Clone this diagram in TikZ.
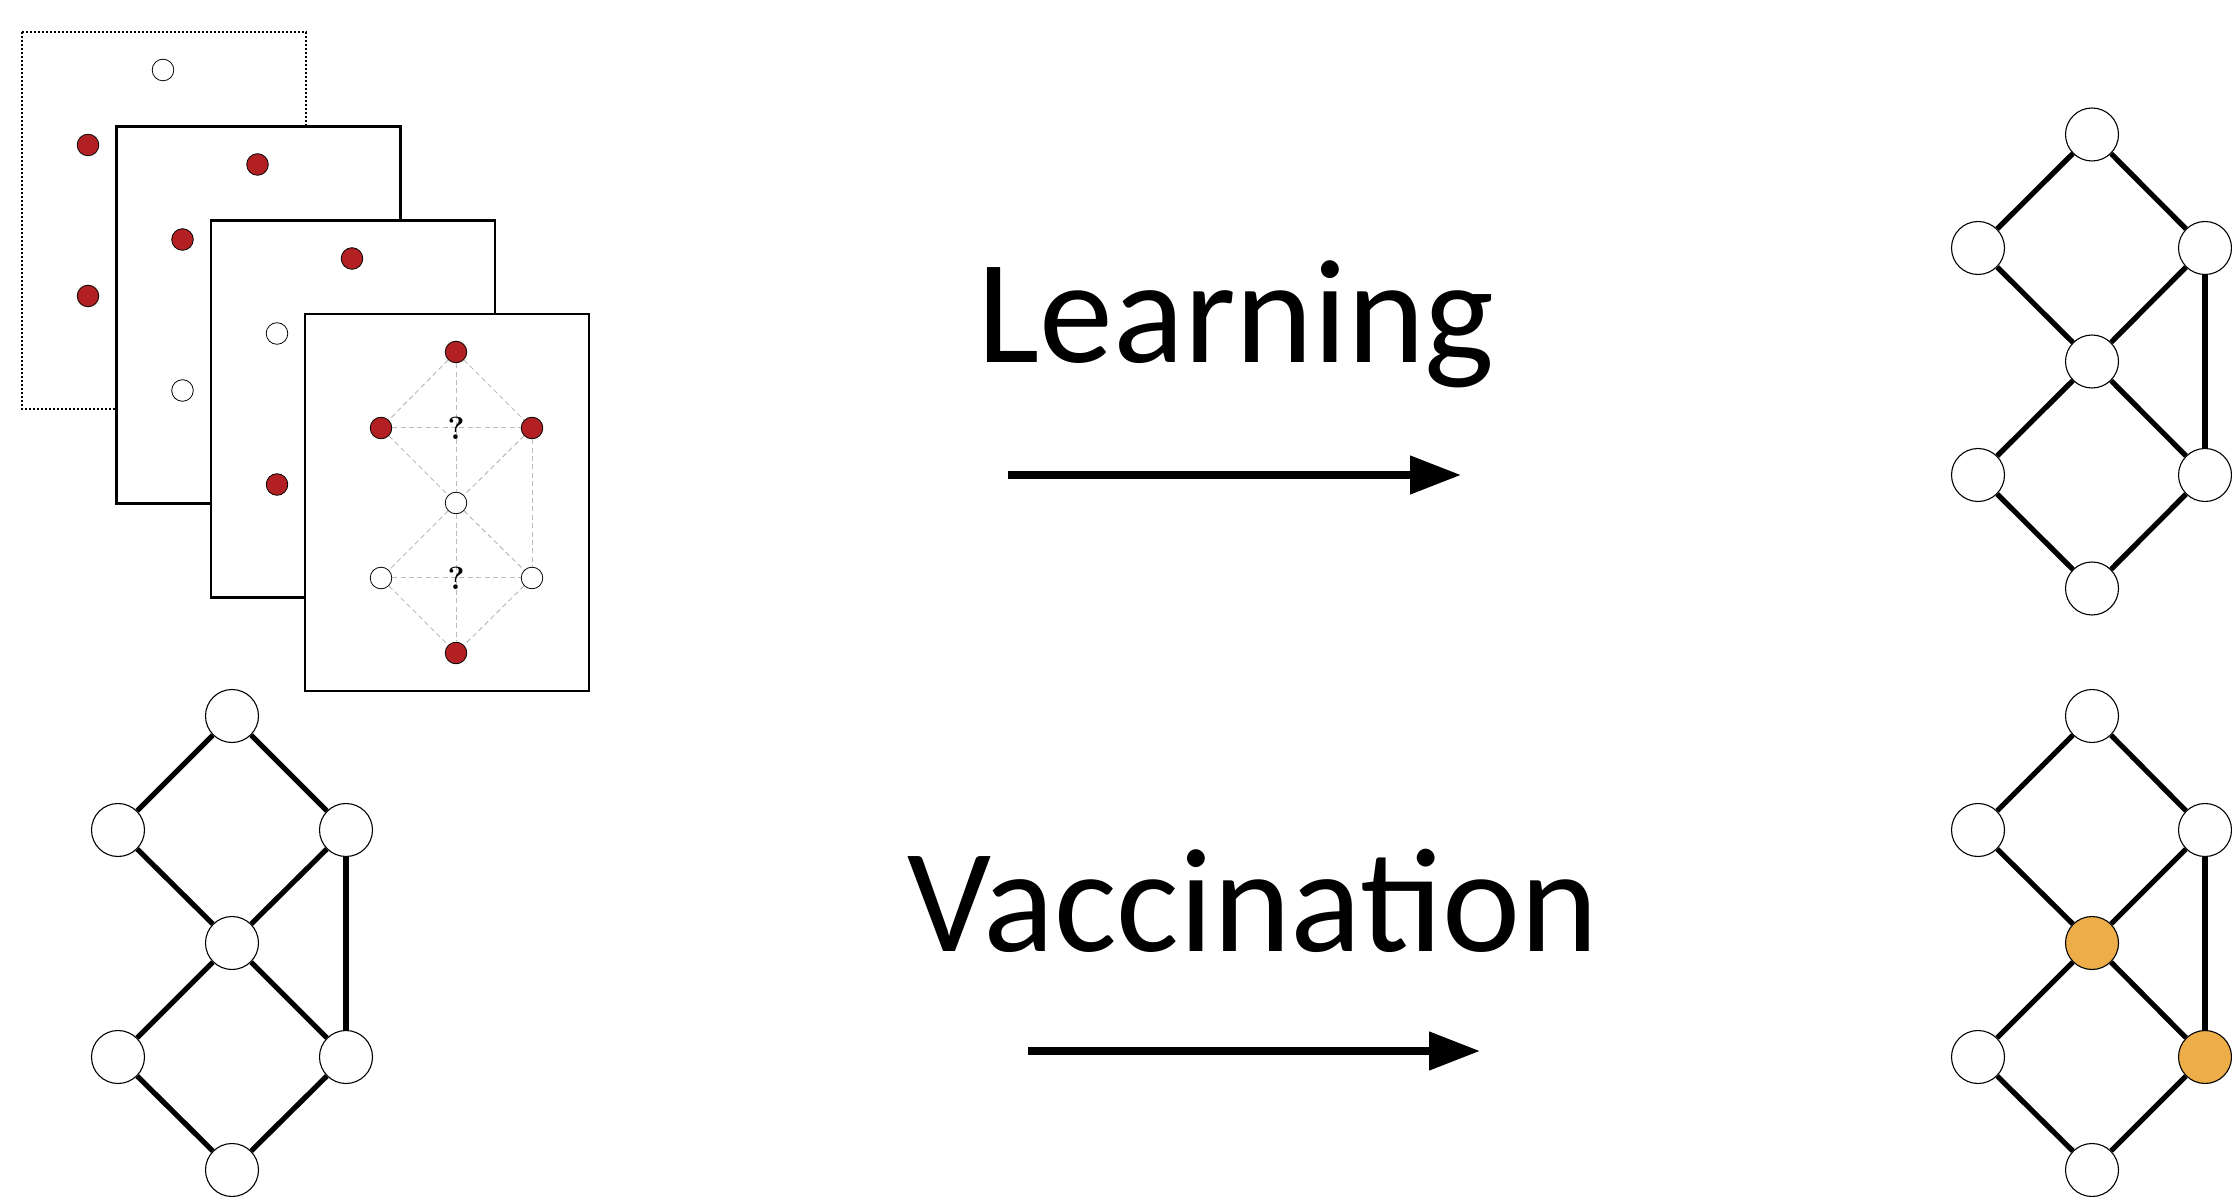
\documentclass[tikz,border=0pt]{standalone}
\usepackage{fontspec}
\setmainfont{Carlito}
\usetikzlibrary{arrows.meta}
\definecolor{dotred}{HTML}{B22024}
\definecolor{vacc}{HTML}{EDAE4A}
\definecolor{hintgray}{HTML}{BBBBBB}
\begin{document}
\begin{tikzpicture}[x=0.5pt,y=-0.5pt,
  card/.style={draw=black,line width=1.1pt,fill=white},
  dotcard/.style={draw=black,line width=1pt,fill=white,dash pattern=on 1pt off 1pt},
  wdot/.style={circle,draw=black,line width=0.4pt,minimum size=10.8pt,inner sep=0pt,fill=white},
  rdot/.style={wdot,fill=dotred},
  gnode/.style={circle,draw=black,line width=0.55pt,minimum size=26.5pt,inner sep=0pt,fill=white},
  vnode/.style={gnode,fill=vacc},
  gedge/.style={line width=2.6pt},
  hint/.style={draw=hintgray,line width=0.5pt,dash pattern=on 2.5pt off 1.7pt},
  qmark/.style={inner sep=0pt,font=\fontspec{Latin Modern Roman}\bfseries\fontsize{16}{16}\selectfont},
  bigarrow/.style={line width=3.9pt,-{Triangle[length=25.5pt,width=18.5pt]}},
  bigtext/.style={inner sep=0pt,anchor=base,font=\fontsize{74}{86}\selectfont}
]
\useasboundingbox (0,0) rectangle (2232,1197);

% ---- card 1 (dotted)
\path[dotcard] (22,32) rectangle ++(284,377);
\node[wdot] (a1) at (163,70) {};
\node[rdot] (a2) at (88,145) {};
\node[rdot] (a3) at (88,296) {};
% ---- card 2
\path[card] (116.5,126.5) rectangle ++(284,377);
\node[rdot] (b1) at (257.5,164.5) {};
\node[rdot] (b2) at (182.5,239.5) {};
\node[wdot] (b3) at (182.5,390.5) {};
% ---- card 3
\path[card] (211,220.5) rectangle ++(284,377);
\node[rdot] (c1) at (352,258.5) {};
\node[wdot] (c2) at (277,333.5) {};
\node[rdot] (c3) at (277,484.5) {};
% ---- card 4
\path[card] (305,314) rectangle ++(284,377);
\node[rdot] (dt) at (456,352) {};
\node[rdot] (dl) at (381,428) {};
\node[rdot] (dr) at (532,428) {};
\node[wdot] (dc) at (456,503) {};
\node[wdot] (dll) at (381,578) {};
\node[wdot] (dlr) at (532,578) {};
\node[rdot] (db) at (456,653) {};
\draw[hint] (dt) -- (dl);
\draw[hint] (dt) -- (dr);
\draw[hint] (dt) -- (dc);
\draw[hint] (dl) -- (dr);
\draw[hint] (dl) -- (dc);
\draw[hint] (dr) -- (dc);
\draw[hint] (dr) -- (dlr);
\draw[hint] (dc) -- (dll);
\draw[hint] (dc) -- (dlr);
\draw[hint] (dc) -- (db);
\draw[hint] (dll) -- (dlr);
\draw[hint] (dll) -- (db);
\draw[hint] (dlr) -- (db);
\node[qmark] (q1) at (456,428) {?};
\node[qmark] (q2) at (456,578) {?};

% ---- bottom-left graph
\node[gnode] (pt) at (232,716) {};
\node[gnode] (pl) at (118,830) {};
\node[gnode] (pr) at (346,830) {};
\node[gnode] (pc) at (232,943) {};
\node[gnode] (pll) at (118,1057) {};
\node[gnode] (plr) at (346,1057) {};
\node[gnode] (pb) at (232,1170) {};
\foreach \u/\v in {pt/pl,pt/pr,pl/pc,pr/pc,pr/plr,pc/pll,pc/plr,pll/pb,plr/pb}
  \draw[gedge] (\u) -- (\v);

% ---- top-right graph
\node[gnode] (qt) at (2092,134.5) {};
\node[gnode] (ql) at (1978,248) {};
\node[gnode] (qr) at (2205,248) {};
\node[gnode] (qc) at (2092,361.5) {};
\node[gnode] (qll) at (1978,475) {};
\node[gnode] (qlr) at (2205,475) {};
\node[gnode] (qb) at (2092,588.5) {};
\foreach \u/\v in {qt/ql,qt/qr,ql/qc,qr/qc,qr/qlr,qc/qll,qc/qlr,qll/qb,qlr/qb}
  \draw[gedge] (\u) -- (\v);

% ---- bottom-right graph (vaccinated)
\node[gnode] (rt) at (2092,716) {};
\node[gnode] (rl) at (1978,830) {};
\node[gnode] (rr) at (2205,830) {};
\node[vnode] (rc) at (2092,943) {};
\node[gnode] (rll) at (1978,1057) {};
\node[vnode] (rlr) at (2205,1057) {};
\node[gnode] (rb) at (2092,1170) {};
\foreach \u/\v in {rt/rl,rt/rr,rl/rc,rr/rc,rr/rlr,rc/rll,rc/rlr,rll/rb,rlr/rb}
  \draw[gedge] (\u) -- (\v);

% ---- labels and arrows
\node[bigtext] (learn) at (1236,363) {Learning};
\node[bigtext] (vacct) at (1253,951) {Vaccination};
\coordinate (l0) at (1008,475);
\coordinate (l1) at (1461,475);
\coordinate (v0) at (1028,1051);
\coordinate (v1) at (1480,1051);
\draw[bigarrow] (l0) -- (l1);
\draw[bigarrow] (v0) -- (v1);
\end{tikzpicture}
\end{document}
